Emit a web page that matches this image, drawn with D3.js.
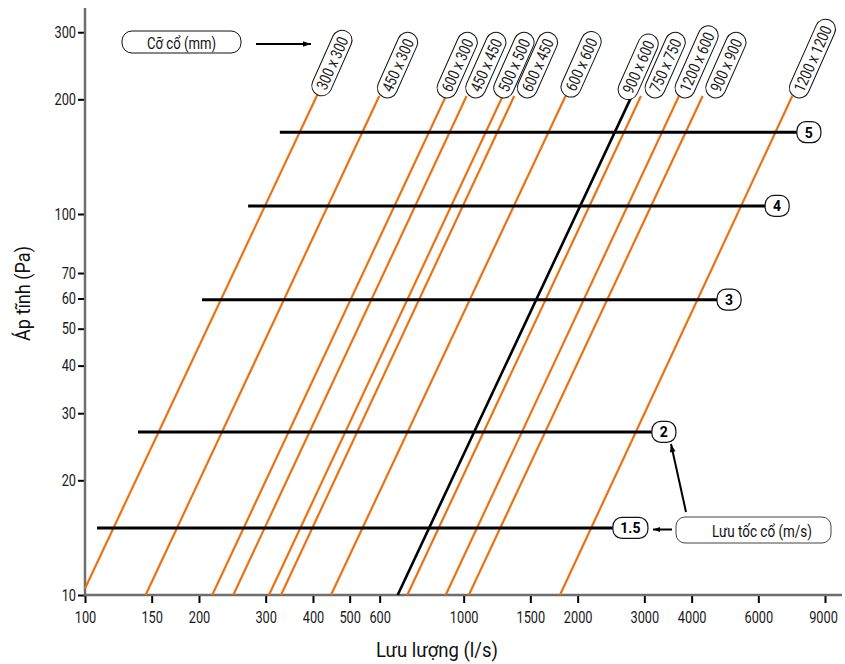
<!DOCTYPE html>
<html>
<head>
<meta charset="utf-8">
<script src="https://cdn.jsdelivr.net/npm/d3@7"></script>
<style>
  html, body { margin: 0; padding: 0; background: #fff; }
  svg { display: block; }
  text { font-family: Roboto, "Liberation Sans", sans-serif; }
</style>
</head>
<body>
<svg id="chart" width="845" height="664"></svg>
<script>
// ---------- DATA ----------
const ductSizes = ["300 x 300","450 x 300","600 x 300","450 x 450","500 x 500","600 x 450","600 x 600","900 x 600","750 x 750","1200 x 600","900 x 900","1200 x 1200"];
const flowStart = [100, 144.6, 216.8, 246.4, 306.1, 329.3, 446.3, 669.5, 709.9, 896.5, 1032, 1796];
const pressureStart = [10.4, 10, 10, 10, 10, 10, 10, 10, 10, 10, 10, 10];
const flowEnd = [411.6, 598.7, 898, 1018, 1268, 1360, 1862, 2766, 2939, 3703, 4277, 7376];
const pressureEnd = [206.6, 204, 204, 204, 204, 204, 205, 202, 204, 204, 204, 204];
const highlighted = "900 x 600";

const velocities = ["1.5", "2", "3", "4", "5"];
const velPressure = [15.0, 26.8, 59.6, 105, 164];
const velFlowStart = [107.6, 138, 203.7, 269.6, 327];
const velFlowEnd = [2478, 3141, 4668, 6253, 7586];

const xTicks = [100,150,200,300,400,500,600,1000,1500,2000,3000,4000,6000,9000];
const yTicks = [10,20,30,40,50,60,70,100,200,300];

const xTitle = "Lưu lượng (l/s)";
const yTitle = "Áp tĩnh (Pa)";
const sizeNote = "Cỡ cổ (mm)";
const velNote = "Lưu tốc cổ (m/s)";

// ---------- LAYOUT ----------
const labelShift = [0, 4, -3, 5, -3, 9, 1, -7, 10, 2, 9, 3]; // px nudges of the size pills
const svg = d3.select("#chart");
const x = d3.scaleLog().domain([100, 9000]).range([85, 825]);
const y = d3.scaleLog().domain([10, 300]).range([595, 595 - 381 * Math.log10(30)]);
const ORANGE = "#ec7211";
const AXISGRAY = "#6e6e6e";
const SX = 0.8;

function narrow(sel, f) {
  sel.each(function() {
    const n = this.getComputedTextLength();
    d3.select(this).attr("textLength", n * f).attr("lengthAdjust", "spacingAndGlyphs");
  });
}

// markers
const defs = svg.append("defs");
defs.append("marker").attr("id", "arr").attr("viewBox", "0 0 10 10")
  .attr("refX", 10).attr("refY", 5).attr("markerWidth", 7).attr("markerHeight", 7)
  .attr("markerUnits", "userSpaceOnUse").attr("orient", "auto")
  .append("path").attr("d", "M0,1.5 L10,5 L0,8.5 Z").attr("fill", "#000");
defs.append("marker").attr("id", "arrBig").attr("viewBox", "0 0 10 10")
  .attr("refX", 10).attr("refY", 5).attr("markerWidth", 14).attr("markerHeight", 8)
  .attr("markerUnits", "userSpaceOnUse").attr("orient", "auto")
  .append("path").attr("d", "M0,1.5 L10,5 L0,8.5 Z").attr("fill", "#000");

// ---------- AXES ----------
const xAxis = svg.append("g").attr("transform", "translate(0,595)")
  .call(d3.axisBottom(x).tickValues(xTicks).tickFormat(d3.format("d")).tickSize(8).tickPadding(9));
xAxis.select(".domain").remove();
xAxis.selectAll(".tick line").attr("stroke", "#000").attr("stroke-width", 2);
xAxis.selectAll(".tick text").attr("font-size", 16).attr("fill", "#1a1a1a")
  .style("font-family", "Roboto, sans-serif")
  .attr("transform", d => `translate(${d === 9000 ? -2 : 0},0) scale(${SX},1)`);

const yAxis = svg.append("g").attr("transform", "translate(85,0)")
  .call(d3.axisLeft(y).tickValues(yTicks).tickFormat(d3.format("d")).tickSize(7).tickPadding(2));
yAxis.select(".domain").remove();
yAxis.selectAll(".tick line").attr("stroke", "#000").attr("stroke-width", 2);
yAxis.selectAll(".tick text").attr("font-size", 16).attr("fill", "#1a1a1a")
  .style("font-family", "Roboto, sans-serif")
  .attr("x", -9 / SX).attr("transform", `scale(${SX},1)`);

// axis lines
svg.append("line").attr("x1", 85).attr("x2", 842).attr("y1", 595).attr("y2", 595)
  .attr("stroke", AXISGRAY).attr("stroke-width", 2.5);
svg.append("line").attr("x1", 85).attr("x2", 85).attr("y1", 8).attr("y2", 596)
  .attr("stroke", AXISGRAY).attr("stroke-width", 2.5);

// titles
svg.append("text").attr("x", 376).attr("y", 657)
  .attr("font-size", 20).attr("fill", "#111").text(xTitle)
  .attr("textLength", 122).attr("lengthAdjust", "spacingAndGlyphs");
svg.append("text").attr("transform", "translate(30,341) rotate(-90)")
  .attr("font-size", 20).attr("fill", "#111").text(yTitle)
  .attr("textLength", 95).attr("lengthAdjust", "spacingAndGlyphs");

// ---------- DUCT LINES ----------
const ducts = ductSizes.map((s, i) => ({
  name: s, q0: flowStart[i], p0: pressureStart[i], q1: flowEnd[i], p1: pressureEnd[i], dx: labelShift[i]
}));
svg.append("g").selectAll("line").data(ducts).join("line")
  .attr("x1", d => x(d.q0)).attr("y1", d => y(d.p0))
  .attr("x2", d => x(d.q1)).attr("y2", d => y(d.p1))
  .attr("stroke", d => d.name === highlighted ? "#000" : ORANGE)
  .attr("stroke-width", d => d.name === highlighted ? 2.6 : 2.2);

// duct labels (rotated pills)
const ANG = -66, T = 20;
const lab = svg.append("g").selectAll("g").data(ducts).join("g")
  .attr("transform", d => `translate(${x(d.q1) + d.dx},${y(d.p1) + 1}) rotate(${ANG})`);
lab.append("text").attr("font-size", 16).attr("dominant-baseline", "central")
  .attr("fill", "#1a1a1a").text(d => d.name).call(narrow, 0.8);
lab.each(function() {
  const g = d3.select(this);
  const w = +g.select("text").attr("textLength");
  const L = w + 14;
  g.select("text").attr("x", 7).attr("y", 0.5);
  g.insert("rect", "text").attr("x", 0).attr("y", -T / 2).attr("width", L).attr("height", T)
    .attr("rx", T / 2).attr("fill", "#fff").attr("stroke", "#111").attr("stroke-width", 1);
});

// ---------- VELOCITY LINES ----------
const vel = velocities.map((v, i) => ({ v, p: velPressure[i], q0: velFlowStart[i], q1: velFlowEnd[i] }));
svg.append("g").selectAll("line").data(vel).join("line")
  .attr("x1", d => x(d.q0)).attr("x2", d => x(d.q1))
  .attr("y1", d => y(d.p)).attr("y2", d => y(d.p))
  .attr("stroke", "#000").attr("stroke-width", 3);
const vl = svg.append("g").selectAll("g").data(vel).join("g")
  .attr("transform", d => `translate(${x(d.q1)},${y(d.p)})`);
vl.each(function(d) {
  const g = d3.select(this);
  const w = d.v.length > 1 ? 35 : 24;
  g.append("rect").attr("x", 0).attr("y", -10.5).attr("width", w).attr("height", 21)
    .attr("rx", 9).attr("fill", "#fff").attr("stroke", "#111").attr("stroke-width", 1.2);
  g.append("text").attr("x", w / 2).attr("y", 0.5).attr("text-anchor", "middle")
    .attr("dominant-baseline", "central").attr("font-size", 14).attr("font-weight", "bold")
    .attr("font-family", "'Liberation Sans', Arial, sans-serif").attr("fill", "#000").text(d.v);
});

// ---------- NOTES ----------
svg.append("rect").attr("x", 122).attr("y", 31).attr("width", 119).attr("height", 22)
  .attr("rx", 10).attr("fill", "#fff").attr("stroke", "#111").attr("stroke-width", 1);
svg.append("text").attr("x", 147).attr("y", 43).attr("dominant-baseline", "central")
  .attr("font-size", 17).attr("fill", "#111").text(sizeNote)
  .attr("textLength", 69).attr("lengthAdjust", "spacingAndGlyphs");
svg.append("line").attr("x1", 256).attr("x2", 311).attr("y1", 44).attr("y2", 44)
  .attr("stroke", "#000").attr("stroke-width", 2).attr("marker-end", "url(#arrBig)");

svg.append("rect").attr("x", 676).attr("y", 517).attr("width", 155).attr("height", 26)
  .attr("rx", 9).attr("fill", "#fff").attr("stroke", "#444").attr("stroke-width", 1);
svg.append("text").attr("x", 712).attr("y", 530.5)
  .attr("dominant-baseline", "central").attr("font-size", 17).attr("fill", "#111").text(velNote)
  .attr("textLength", 100).attr("lengthAdjust", "spacingAndGlyphs");
svg.append("line").attr("x1", 672).attr("x2", 653).attr("y1", 529.5).attr("y2", 529.5)
  .attr("stroke", "#000").attr("stroke-width", 2).attr("marker-end", "url(#arr)");
svg.append("line").attr("x1", 686).attr("x2", 671).attr("y1", 512).attr("y2", 444)
  .attr("stroke", "#000").attr("stroke-width", 2).attr("marker-end", "url(#arrBig)");
</script>
</body>
</html>
